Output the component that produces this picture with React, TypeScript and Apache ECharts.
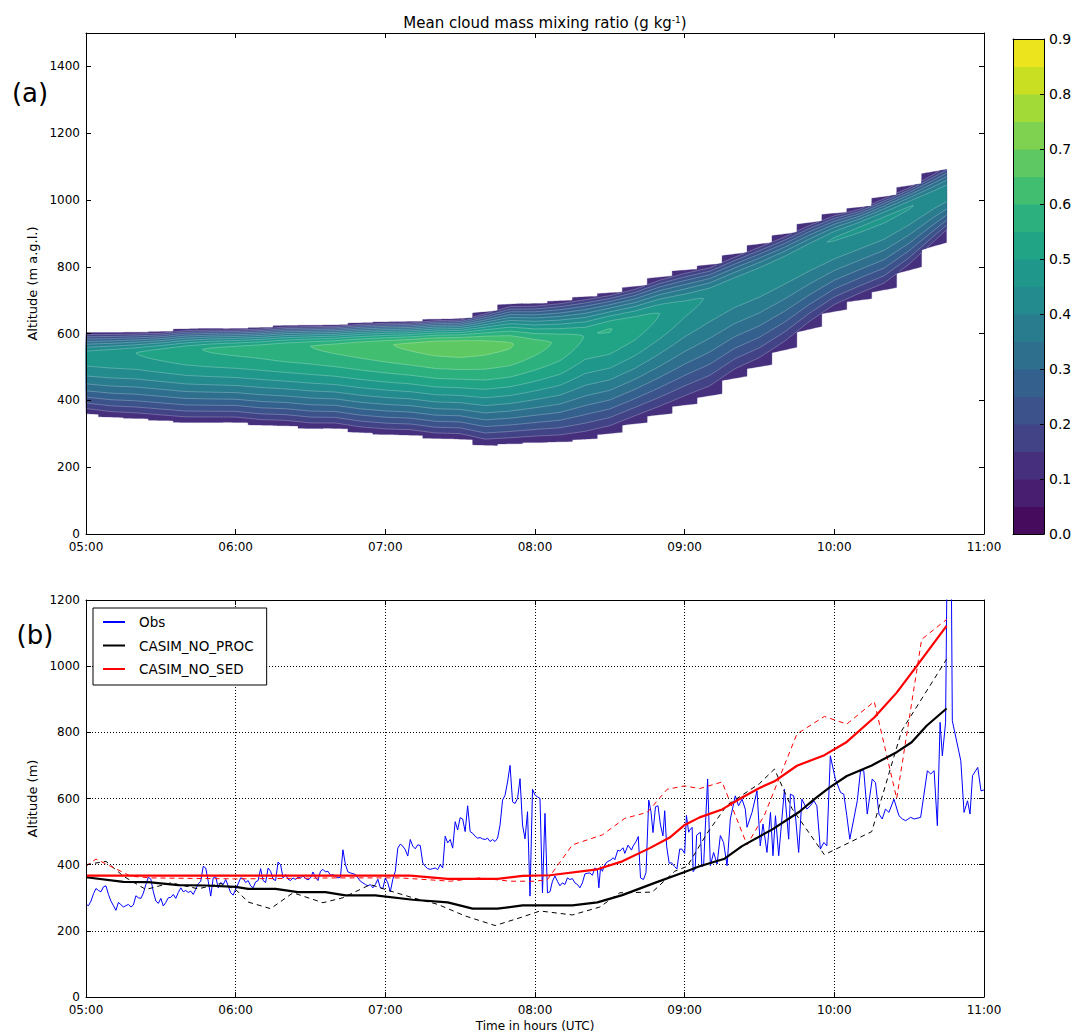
import React, { useEffect, useRef } from 'react';
import * as echarts from 'echarts';

const FONT = '"DejaVu Sans", Verdana, sans-serif';

// ---------- shared tick labels ----------
const hourLabels = ['05:00', '06:00', '07:00', '08:00', '09:00', '10:00', '11:00'];
const colorbarLabels = ['0.0', '0.1', '0.2', '0.3', '0.4', '0.5', '0.6', '0.7', '0.8', '0.9'];

// ---------- panel (a): cloud mass mixing ratio (minutes after 05:00) ----------
const colTimes = [0, 10, 20, 30, 40, 50, 60, 70, 80, 90, 100, 110, 120, 130, 140, 150, 160, 170, 180, 190, 200, 210, 220, 230, 240, 250, 260, 270, 280, 290, 300, 310, 320, 330, 340];
const cloudTop = [603, 603, 604, 606, 614, 615, 615, 618, 624, 625, 626, 632, 635, 636, 643, 645, 665, 688, 690, 698, 710, 722, 741, 769, 790, 806, 838, 868, 898, 932, 960, 978, 1010, 1043, 1085];
const cloudBase = [360, 350, 346, 340, 334, 334, 334, 326, 324, 316, 316, 304, 298, 296, 286, 284, 266, 270, 274, 276, 284, 301, 330, 357, 386, 414, 466, 501, 551, 613, 666, 700, 731, 790, 862];
const peakAlt = [535, 538, 542, 546, 550, 554, 556, 558, 560, 562, 563, 565, 566, 567, 568, 568, 568, 568, 568, 575, 592, 612, 632, 660, 685, 712, 745, 775, 810, 848, 885, 915, 945, 978, 1010];
const peakValue = [0.48, 0.49, 0.5, 0.52, 0.54, 0.555, 0.565, 0.575, 0.59, 0.6, 0.615, 0.63, 0.645, 0.66, 0.675, 0.68, 0.67, 0.655, 0.62, 0.59, 0.548, 0.552, 0.53, 0.5, 0.465, 0.445, 0.44, 0.44, 0.44, 0.445, 0.452, 0.455, 0.456, 0.452, 0.44];
const levelEdges = [0, 0.05, 0.1, 0.15, 0.2, 0.25, 0.3, 0.35, 0.4, 0.45, 0.5, 0.55, 0.6, 0.65, 0.7, 0.75, 0.8, 0.85, 0.9];
const bandColors = ['#460b5d', '#481e70', '#46307e', '#424286', '#3b528b', '#34608d', '#2e6f8e', '#287c8e', '#238a8d', '#1f978a', '#21a486', '#2cb17e', '#42be71', '#5ec962', '#7ed24f', '#a2da37', '#c8e021', '#ece51e'];
const edgeBand = 2; // band index of the cloud's outermost layer

// ---------- panel (b): cloud base altitude (minutes after 05:00, m) ----------
const obsSeries = [
  [0, 280], [1, 276], [2, 290], [3, 312], [4, 328], [5, 322], [6, 318], [7, 333], [8, 336], [9, 310],
  [10, 290], [11, 276], [12, 262], [13, 286], [14, 279], [15, 272], [16, 276], [17, 280], [18, 272], [19, 278],
  [20, 306], [21, 300], [22, 298], [23, 314], [24, 340], [25, 362], [26, 356], [27, 318], [28, 290], [29, 283],
  [30, 298], [31, 275], [32, 286], [33, 300], [34, 301], [35, 310], [36, 298], [37, 316], [38, 330], [39, 318],
  [40, 322], [41, 316], [42, 320], [43, 310], [44, 326], [45, 342], [46, 350], [47, 395], [48, 390], [49, 350],
  [50, 305], [51, 360], [52, 364], [53, 330], [54, 346], [55, 340], [56, 355], [57, 336], [58, 315], [59, 308],
  [60, 326], [61, 342], [62, 360], [63, 358], [64, 346], [65, 352], [66, 336], [67, 330], [68, 348], [69, 352],
  [70, 388], [71, 352], [72, 346], [73, 390], [74, 380], [75, 356], [76, 352], [77, 408], [78, 400], [79, 360],
  [80, 370], [81, 356], [82, 352], [83, 360], [84, 355], [85, 362], [86, 360], [87, 366], [88, 358], [89, 354],
  [90, 360], [91, 378], [92, 362], [93, 352], [94, 380], [95, 386], [96, 378], [97, 380], [98, 368], [99, 370],
  [100, 364], [101, 360], [102, 362], [103, 445], [104, 400], [105, 378], [106, 375], [107, 373], [108, 370], [109, 360],
  [110, 350], [111, 345], [112, 340], [113, 336], [114, 340], [115, 330], [116, 340], [117, 356], [118, 330], [119, 328],
  [120, 360], [121, 345], [122, 318], [123, 356], [124, 380], [125, 450], [126, 462], [127, 456], [128, 445], [129, 426],
  [130, 476], [131, 456], [132, 448], [133, 460], [134, 458], [135, 405], [136, 395], [137, 388], [138, 386], [139, 388],
  [140, 390], [141, 385], [142, 400], [143, 390], [144, 486], [145, 466], [146, 476], [147, 450], [148, 530], [149, 505],
  [150, 542], [151, 538], [152, 500], [153, 578], [154, 500], [155, 495], [156, 486], [157, 480], [158, 482], [159, 478],
  [160, 476], [161, 480], [162, 470], [163, 476], [164, 470], [165, 480], [166, 520], [167, 595], [168, 610], [169, 650],
  [170, 700], [171, 590], [172, 585], [173, 600], [174, 660], [175, 520], [176, 478], [177, 560], [178, 305], [179, 628],
  [180, 610], [181, 605], [182, 600], [183, 315], [184, 555], [185, 315], [186, 318], [187, 350], [188, 366], [189, 350],
  [190, 336], [191, 345], [192, 340], [193, 360], [194, 355], [195, 358], [196, 345], [197, 340], [198, 330], [199, 345],
  [200, 372], [201, 374], [202, 375], [203, 368], [204, 390], [205, 385], [205.6, 330], [206.3, 394], [207, 380], [208, 400],
  [209, 409], [210.4, 414], [211.3, 421], [212, 415], [213.2, 444], [214, 441], [215.3, 451], [216, 434], [217.3, 459], [218.7, 444],
  [219.3, 456], [220.5, 470], [221.4, 485], [222.3, 360], [223.5, 355], [224.5, 376], [225.6, 595], [226.5, 560], [227.3, 497], [228.3, 575],
  [229.3, 578], [230.3, 520], [231.3, 487], [232, 563], [232.8, 454], [233.8, 404], [234.7, 406], [236, 394], [236.9, 387], [238, 447],
  [238.9, 447], [240, 434], [240.7, 549], [241.6, 498], [242, 504], [243, 513], [243.4, 379], [244.2, 387], [244.8, 489], [246.3, 498],
  [246.9, 394], [247.6, 397], [248.2, 499], [249.2, 659], [250.3, 397], [251.6, 437], [253, 402], [254.3, 488], [255.6, 467], [257, 397],
  [258.3, 538], [260.3, 608], [261.6, 578], [263, 598], [264.3, 568], [265, 513], [267, 558], [269, 623], [270.3, 457], [271.4, 523],
  [273, 437], [274.4, 558], [275.4, 427], [276.4, 548], [277.7, 427], [280, 628], [281.7, 477], [282.4, 613], [283.7, 608], [285.7, 437],
  [287, 598], [289, 568], [290.4, 578], [291.8, 593], [293, 578], [294.4, 447], [295.8, 467], [297, 457], [298.4, 729], [300.4, 659],
  [302.5, 618], [303.8, 613], [305, 548], [306.2, 477], [307.8, 538], [309.2, 593], [310.5, 684], [311.8, 684], [313.2, 553], [315.2, 659],
  [316.5, 648], [317.9, 553], [319.2, 538], [320.5, 568], [321.9, 558], [323.9, 598], [325.9, 548], [327.3, 538], [328.6, 533], [330.6, 543],
  [332, 538], [334.6, 543], [337.3, 684], [338.6, 674], [340, 684], [341.3, 518], [342.4, 830], [343.3, 729], [344.6, 830], [345.3, 1400],
  [346.8, 1400], [347.3, 835], [350.7, 714], [352, 558], [353.4, 593], [354.4, 553], [355.4, 669], [357.5, 694], [358.8, 623], [360, 626],
];
const procThick = [[0, 362], [15, 348], [25, 347], [37, 338], [48, 337], [60, 333], [65, 327], [76, 327], [85, 317], [96, 317], [104, 307], [116, 307], [131, 294], [145, 286], [155, 267], [165, 267], [175, 277], [195, 277], [205, 286], [215, 308], [228, 345], [240, 378], [246, 395], [256, 418], [263, 456], [275, 506], [286, 560], [292, 598], [298, 633], [305, 668], [315, 700], [325, 740], [331, 770], [337, 820], [345, 872]];
const sedThick = [[0, 367], [130, 367], [145, 357], [165, 357], [175, 366], [186, 368], [205, 386], [215, 410], [226, 450], [234, 482], [240, 520], [246, 543], [255, 567], [263, 603], [270, 632], [276, 652], [285, 699], [296, 731], [305, 771], [316, 845], [325, 920], [333, 1000], [345, 1122]];
const procDashed = [[0, 400], [8, 410], [15, 365], [24, 325], [34, 345], [45, 327], [54, 343], [60, 325], [65, 287], [74, 267], [83, 315], [95, 285], [103, 300], [114, 340], [120, 325], [131, 300], [141, 280], [152, 245], [164, 216], [175, 242], [182, 260], [195, 248], [206, 272], [214, 315], [227, 317], [236, 380], [241, 395], [249, 495], [257, 580], [270, 645], [276, 689], [283, 570], [296, 430], [315, 500], [327, 805], [345, 1021]];
const sedDashed = [[0, 395], [4, 417], [18, 365], [26, 360], [60, 357], [100, 360], [126, 360], [146, 350], [158, 360], [170, 350], [180, 350], [185, 355], [189, 397], [195, 460], [207, 490], [216, 540], [225, 558], [233, 628], [240, 638], [246, 630], [255, 650], [265, 460], [272, 550], [285, 795], [296, 848], [305, 825], [316, 893], [325, 600], [335, 1081], [345, 1141]];

// ---------- contour construction for panel (a) ----------
const NC = colTimes.length;
const HALF = 5;
const T_END = colTimes[NC - 1] + HALF;
const V0 = levelEdges[edgeBand];
const PW = 1.5;

function lerpCols(arr: number[], t: number, extrap: boolean) {
  if (t <= colTimes[0]) return arr[0];
  if (t >= colTimes[NC - 1]) {
    if (!extrap) return arr[NC - 1];
    const s = (arr[NC - 1] - arr[NC - 2]) / (colTimes[NC - 1] - colTimes[NC - 2]);
    return arr[NC - 1] + s * (t - colTimes[NC - 1]);
  }
  let i = 0;
  while (colTimes[i + 1] < t) i++;
  const f = (t - colTimes[i]) / (colTimes[i + 1] - colTimes[i]);
  return arr[i] + (arr[i + 1] - arr[i]) * f;
}
function stairIdx(t: number) {
  let best = 0;
  for (let i = 0; i < NC; i++) if (t >= colTimes[i] - HALF) best = i;
  return best;
}
function stairEdge(arr: number[], t: number) {
  const i = stairIdx(t);
  const a = Math.max(i - 1, 0), b = Math.min(i + 1, NC - 1);
  const d = (arr[b] - arr[a]) / (b - a);
  return arr[i] + 0.3 * d * (t - colTimes[i]) / (2 * HALF);
}
function field(t: number) {
  return {
    base: lerpCols(cloudBase, t, true),
    top: lerpCols(cloudTop, t, true),
    zp: lerpCols(peakAlt, t, true),
    vm: lerpCols(peakValue, t, false),
  };
}
function bounds(f: { base: number; top: number; zp: number; vm: number }, L: number) {
  const s = (L - V0) / (f.vm - V0);
  const d = Math.pow(Math.max(0, 1 - s), 1 / PW);
  return [f.zp - d * (f.zp - f.base), f.zp + d * (f.top - f.zp)];
}

type Item = { kind: 'fill' | 'line'; pts: number[][]; color: string };

function buildContours(): Item[] {
  const ts: number[] = [];
  for (let t = 0; t <= T_END; t += 1) ts.push(t);
  for (let i = 0; i < NC - 1; i++) {
    const b = colTimes[i] + HALF;
    ts.push(b - 0.02, b + 0.02);
  }
  ts.sort((a, b) => a - b);
  const samples = ts.filter((t, i) => i === 0 || t - ts[i - 1] > 1e-6);

  const fills: Item[] = [];
  const lines: Item[] = [];
  const outer = [
    ...samples.map((t) => [t, stairEdge(cloudTop, t)]),
    ...samples.slice().reverse().map((t) => [t, stairEdge(cloudBase, t)]),
  ];
  fills.push({ kind: 'fill', pts: outer, color: bandColors[edgeBand] });

  const buildRun = (run: { t: number; lo: number; hi: number }[], k: number) => {
    const up: number[][] = [];
    const dn: number[][] = [];
    let cu: number[][] = [];
    let cd: number[][] = [];
    const segs: number[][][] = [];
    for (const p of run) {
      const sb = stairEdge(cloudBase, p.t);
      const st = stairEdge(cloudTop, p.t);
      let lo = Math.max(p.lo, sb);
      let hi = Math.min(p.hi, st);
      if (lo > hi) {
        const m = Math.min(Math.max((p.lo + p.hi) / 2, sb), st);
        lo = m;
        hi = m;
      }
      up.push([p.t, hi]);
      dn.push([p.t, lo]);
      if (p.hi <= st && p.hi >= sb) cu.push([p.t, p.hi]);
      else { if (cu.length > 1) segs.push(cu); cu = []; }
      if (p.lo >= sb && p.lo <= st) cd.push([p.t, p.lo]);
      else { if (cd.length > 1) segs.push(cd); cd = []; }
    }
    if (cu.length > 1) segs.push(cu);
    if (cd.length > 1) segs.push(cd);
    fills.push({ kind: 'fill', pts: [...up, ...dn.reverse()], color: bandColors[k] });
    segs.forEach((s) => lines.push({ kind: 'line', pts: s, color: '' }));
  };

  for (let li = edgeBand + 1; li < levelEdges.length - 1; li++) {
    const L = levelEdges[li];
    let run: { t: number; lo: number; hi: number }[] = [];
    for (let j = 0; j < samples.length; j++) {
      const t = samples[j];
      const f = field(t);
      if (f.vm > L) {
        if (run.length === 0 && j > 0) {
          const tp = samples[j - 1];
          const fp = field(tp);
          const tc = tp + ((t - tp) * (L - fp.vm)) / (f.vm - fp.vm);
          const z = field(tc).zp;
          run.push({ t: tc, lo: z, hi: z });
        }
        const [lo, hi] = bounds(f, L);
        run.push({ t, lo, hi });
      } else if (run.length > 0) {
        const tp = samples[j - 1];
        const fp = field(tp);
        const tc = tp + ((t - tp) * (fp.vm - L)) / (fp.vm - f.vm);
        const z = field(tc).zp;
        run.push({ t: tc, lo: z, hi: z });
        if (run.length > 1) buildRun(run, li);
        run = [];
      }
    }
    if (run.length > 1) buildRun(run, li);
  }
  return [...fills, ...lines];
}

// ---------- axes helpers ----------
const black = '#000';
function timeAxis(gridIndex: number, extra: any) {
  return {
    type: 'value', gridIndex, min: 0, max: 360, interval: 60,
    axisLine: { show: true, onZero: false, lineStyle: { color: black, width: 1 } },
    axisTick: { show: true, inside: true, length: 5, lineStyle: { color: black, width: 1 } },
    axisLabel: { show: false },
    splitLine: { show: false },
    ...extra,
  };
}
function altAxis(gridIndex: number, max: number, extra: any) {
  return {
    type: 'value', gridIndex, min: 0, max, interval: 200,
    axisLine: { show: true, onZero: false, lineStyle: { color: black, width: 1 } },
    axisTick: { show: true, inside: true, length: 5, lineStyle: { color: black, width: 1 } },
    axisLabel: { show: false },
    splitLine: { show: false },
    ...extra,
  };
}
const timeLabel = {
  show: true, color: black, fontSize: 12, fontFamily: FONT, margin: 7,
  showMinLabel: true, showMaxLabel: true,
  formatter: (v: number) => hourLabels[Math.round(v / 60)] || '',
};
const dotted = { show: true, lineStyle: { color: black, width: 1, type: [1, 2] } };

function buildOption() {
  const items = buildContours();
  return {
    animation: false,
    backgroundColor: '#fff',
    textStyle: { fontFamily: FONT, color: black },
    title: {
      text: 'Mean cloud mass mixing ratio (g kg{sup|-1})',
      left: 540, top: 10, textAlign: 'center',
      textStyle: {
        fontSize: 15, fontWeight: 'normal', color: black, fontFamily: FONT,
        rich: { sup: { fontSize: 9, verticalAlign: 'top', color: black, fontFamily: FONT } },
      },
    },
    grid: [
      { left: 86, top: 33, width: 898, height: 501, outerBoundsMode: 'none' },
      { left: 86, top: 600, width: 898, height: 397, outerBoundsMode: 'none' },
      { left: 1013, top: 39, width: 31, height: 495, outerBoundsMode: 'none' },
    ],
    xAxis: [
      timeAxis(0, { position: 'bottom', axisLabel: timeLabel, z: 10 }),
      timeAxis(0, { position: 'top', z: 10 }),
      timeAxis(1, {
        position: 'bottom', axisLabel: timeLabel, z: 10,
        name: 'Time in hours (UTC)', nameLocation: 'middle', nameGap: 23,
        nameTextStyle: { fontSize: 12, color: black, fontFamily: FONT },
      }),
      timeAxis(1, { position: 'top', splitLine: dotted }),
      {
        type: 'value', gridIndex: 2, min: 0, max: 1, position: 'bottom',
        axisLine: { show: true, onZero: false, lineStyle: { color: black } },
        axisTick: { show: false }, axisLabel: { show: false }, splitLine: { show: false }, z: 10,
      },
      {
        type: 'value', gridIndex: 2, min: 0, max: 1, position: 'top',
        axisLine: { show: true, onZero: false, lineStyle: { color: black } },
        axisTick: { show: false }, axisLabel: { show: false }, splitLine: { show: false }, z: 10,
      },
    ],
    yAxis: [
      altAxis(0, 1500, {
        position: 'left', z: 10,
        axisLabel: {
          show: true, color: black, fontSize: 12, fontFamily: FONT, margin: 6, showMaxLabel: false,
          formatter: (v: number) => (v >= 1500 ? '' : String(v)),
        },
        name: 'Altitude (m a.g.l.)', nameLocation: 'middle', nameGap: 37, nameRotate: 90,
        nameTextStyle: { fontSize: 13, color: black, fontFamily: FONT },
      }),
      altAxis(0, 1500, { position: 'right', z: 10 }),
      altAxis(1, 1200, {
        position: 'left', z: 10,
        axisLabel: { show: true, color: black, fontSize: 12, fontFamily: FONT, margin: 6, formatter: (v: number) => String(v) },
        name: 'Altitude (m)', nameLocation: 'middle', nameGap: 31, nameRotate: 90,
        nameTextStyle: { fontSize: 13, color: black, fontFamily: FONT },
      }),
      altAxis(1, 1200, { position: 'right', splitLine: dotted }),
      {
        type: 'value', gridIndex: 2, min: 0, max: 0.9, interval: 0.1, position: 'right',
        axisLine: { show: true, onZero: false, lineStyle: { color: black } },
        axisTick: { show: true, inside: true, length: 4, lineStyle: { color: black } },
        axisLabel: {
          show: true, color: black, fontSize: 14, fontFamily: FONT, margin: 5,
          showMinLabel: true, showMaxLabel: true,
          formatter: (v: number) => colorbarLabels[Math.round(v * 10)] || '',
        },
        splitLine: { show: false }, z: 10,
      },
      {
        type: 'value', gridIndex: 2, min: 0, max: 0.9, interval: 0.1, position: 'left',
        axisLine: { show: true, onZero: false, lineStyle: { color: black } },
        axisTick: { show: false }, axisLabel: { show: false }, splitLine: { show: false }, z: 10,
      },
    ],
    legend: {
      data: ['Obs', 'CASIM_NO_PROC', 'CASIM_NO_SED'],
      orient: 'vertical', left: 93, top: 608,
      backgroundColor: '#fff', borderColor: black, borderWidth: 1, borderRadius: 0,
      padding: [6, 13, 8, 10], itemGap: 7.5, itemWidth: 22, itemHeight: 2, icon: 'rect',
      selectedMode: false,
      textStyle: { fontSize: 13.5, fontFamily: FONT, color: black, lineHeight: 16, padding: [0, 0, 0, 9] },
    },
    graphic: [
      { type: 'text', x: 30, y: 93, style: { text: '(a)', fontSize: 26, fontFamily: FONT, fill: black, align: 'center', verticalAlign: 'middle' } },
      { type: 'text', x: 35, y: 635, style: { text: '(b)', fontSize: 26, fontFamily: FONT, fill: black, align: 'center', verticalAlign: 'middle' } },
    ],
    series: [
      {
        type: 'custom', name: 'cloud', xAxisIndex: 0, yAxisIndex: 0,
        data: items.map(() => [0, 0]),
        renderItem: (params: any, api: any) => {
          const it = items[params.dataIndex];
          const pts = it.pts.map((p) => api.coord(p));
          if (it.kind === 'fill') {
            return { type: 'polygon', shape: { points: pts }, style: { fill: it.color, stroke: it.color, lineWidth: 0.3 } };
          }
          return { type: 'polyline', shape: { points: pts }, style: { fill: 'none', stroke: 'rgba(255,255,255,0.35)', lineWidth: 0.7 } };
        },
        silent: true,
      },
      {
        type: 'custom', name: 'colorbar', xAxisIndex: 4, yAxisIndex: 4,
        data: bandColors.map((_, k) => [0, levelEdges[k]]),
        renderItem: (params: any, api: any) => {
          const k = params.dataIndex;
          const p0 = api.coord([0, levelEdges[k]]);
          const p1 = api.coord([1, levelEdges[k + 1]]);
          return {
            type: 'rect',
            shape: { x: p0[0], y: p1[1], width: p1[0] - p0[0], height: p0[1] - p1[1] + 0.5 },
            style: { fill: bandColors[k] },
          };
        },
        silent: true,
      },
      {
        type: 'line', name: 'Obs', xAxisIndex: 2, yAxisIndex: 2, data: obsSeries,
        symbol: 'none', showSymbol: false, clip: true,
        lineStyle: { color: '#0000ff', width: 1 }, itemStyle: { color: '#0000ff' }, z: 2,
      },
      {
        type: 'line', name: 'CASIM_NO_PROC dashed', xAxisIndex: 2, yAxisIndex: 2, data: procDashed,
        symbol: 'none', showSymbol: false, clip: true,
        lineStyle: { color: black, width: 1, type: [5, 4] }, itemStyle: { color: black }, z: 3,
      },
      {
        type: 'line', name: 'CASIM_NO_SED dashed', xAxisIndex: 2, yAxisIndex: 2, data: sedDashed,
        symbol: 'none', showSymbol: false, clip: true,
        lineStyle: { color: '#ff0000', width: 1, type: [5, 4] }, itemStyle: { color: '#ff0000' }, z: 3,
      },
      {
        type: 'line', name: 'CASIM_NO_PROC', xAxisIndex: 2, yAxisIndex: 2, data: procThick,
        symbol: 'none', showSymbol: false, clip: true,
        lineStyle: { color: black, width: 2.2 }, itemStyle: { color: black }, z: 4,
      },
      {
        type: 'line', name: 'CASIM_NO_SED', xAxisIndex: 2, yAxisIndex: 2, data: sedThick,
        symbol: 'none', showSymbol: false, clip: true,
        lineStyle: { color: '#ff0000', width: 2.2 }, itemStyle: { color: '#ff0000' }, z: 4,
      },
    ],
  };
}

export default function App() {
  const ref = useRef<HTMLDivElement>(null);
  useEffect(() => {
    document.body.style.margin = '0';
    const chart = echarts.init(ref.current as HTMLDivElement, null, { renderer: 'svg' });
    chart.setOption(buildOption() as any);
    return () => chart.dispose();
  }, []);
  return <div ref={ref} style={{ width: 1076, height: 1034 }} />;
}
